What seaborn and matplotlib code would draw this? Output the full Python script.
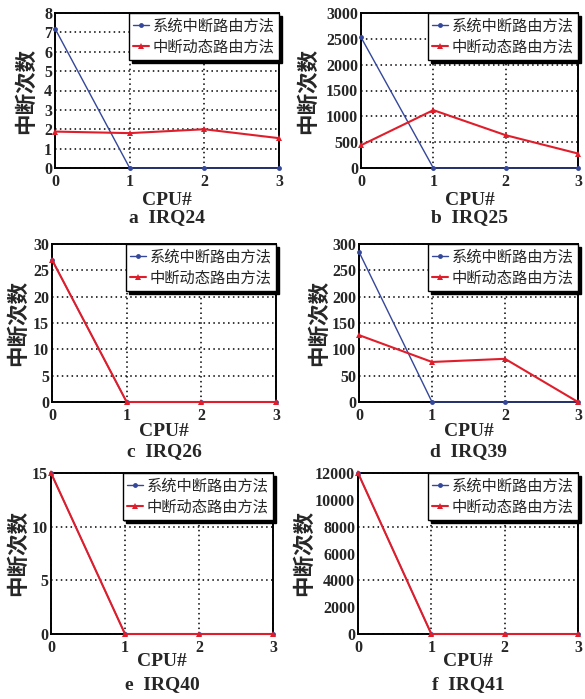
import numpy as np
import pandas as pd
import matplotlib
matplotlib.use("Agg")
import matplotlib.pyplot as plt
import matplotlib.ticker as mticker
import seaborn as sns

# CPU indices and interrupt counts per IRQ for the two routing methods
cpus = [0, 1, 2, 3]
method_sys = "系统中断路由方法"
method_dyn = "中断动态路由方法"

irq24_sys = [7.2, 0, 0, 0]
irq24_dyn = [1.88, 1.80, 2.0, 1.54]
irq25_sys = [2530, 0, 0, 0]
irq25_dyn = [440, 1120, 635, 280]
irq26_sys = [27, 0, 0, 0]
irq26_dyn = [27, 0, 0, 0]
irq39_sys = [285, 0, 0, 0]
irq39_dyn = [127, 76, 82, 0]
irq40_sys = [15, 0, 0, 0]
irq40_dyn = [15, 0, 0, 0]
irq41_sys = [12000, 0, 0, 0]
irq41_dyn = [12000, 0, 0, 0]

captions = ["a  IRQ24", "b  IRQ25", "c  IRQ26", "d  IRQ39", "e  IRQ40", "f  IRQ41"]
series = [(irq24_sys, irq24_dyn), (irq25_sys, irq25_dyn), (irq26_sys, irq26_dyn),
          (irq39_sys, irq39_dyn), (irq40_sys, irq40_dyn), (irq41_sys, irq41_dyn)]
ylims = [8, 3000, 30, 300, 15, 12000]
ysteps = [1, 500, 5, 50, 5, 2000]

sns.set_style("white")
plt.rcParams["font.family"] = ["Liberation Serif", "Noto Sans CJK SC"]
cjk = ["Noto Sans CJK SC", "DejaVu Sans"]

W, H = 585, 699
fig = plt.figure(figsize=(W / 100, H / 100), dpi=100)

# panel boxes in pixels: (left, right, top, bottom)
boxes = [(55, 279, 13, 168), (361, 578, 13, 168),
         (52, 276, 244, 402), (359, 578, 244, 402),
         (51, 273, 473, 634), (358, 578, 473, 634)]
ylabel_x = [25, 307, 17, 318, 17, 303]
cpu_y = [200, 200, 431, 431, 662, 662]
cap_y = [218, 218, 452, 452, 685, 685]

blue = "#34479a"
red = "#e01e2b"

for i, (sys_v, dyn_v) in enumerate(series):
    l, r, t, b = boxes[i]
    ax = fig.add_axes([l / W, 1 - b / H, (r - l) / W, (b - t) / H])
    df = pd.DataFrame({"cpu": cpus * 2, "count": list(sys_v) + list(dyn_v),
                       "method": [method_sys] * 4 + [method_dyn] * 4})
    sns.lineplot(data=df[df.method == method_sys], x="cpu", y="count", ax=ax,
                 color=blue, marker="o", markersize=3.5, markeredgewidth=0,
                 linewidth=1.0, label=method_sys, clip_on=False, zorder=3)
    sns.lineplot(data=df[df.method == method_dyn], x="cpu", y="count", ax=ax,
                 color=red, marker="^", markersize=5, markeredgewidth=0,
                 linewidth=1.5, label=method_dyn, clip_on=False, zorder=4)
    ax.set_xlim(0, 3)
    ax.set_ylim(0, ylims[i])
    ax.xaxis.set_major_locator(mticker.MultipleLocator(1))
    if i == 5:
        ax.yaxis.set_major_locator(mticker.MultipleLocator(4000))
        ax.yaxis.set_minor_locator(mticker.MultipleLocator(2000))
        ax.yaxis.set_minor_formatter(mticker.FormatStrFormatter("%d"))
    else:
        ax.yaxis.set_major_locator(mticker.MultipleLocator(ysteps[i]))
    ax.grid(True, which="major", color="black", linestyle=(0, (1, 2.2)), linewidth=1.1)
    for s in ax.spines.values():
        s.set_color("black")
        s.set_linewidth(1.4)
    ax.tick_params(axis="y", which="both", length=0, pad=2, labelsize=11.5)
    ax.tick_params(axis="x", which="both", length=0, pad=4, labelsize=11.5)
    for lab in ax.get_xticklabels() + ax.get_yticklabels() + ax.get_yticklabels(minor=True):
        lab.set_fontweight("bold")
    ax.set_xlabel("")
    ax.set_ylabel("")
    leg = ax.legend(loc="upper right", borderaxespad=0,
                    prop={"family": cjk, "size": 11},
                    handlelength=1.0, handletextpad=0.25, borderpad=0.3,
                    labelspacing=0.25, fancybox=False, frameon=True,
                    shadow={"color": "black", "alpha": 1.0})
    leg.get_frame().set_edgecolor("black")
    leg.get_frame().set_linewidth(1.0)
    leg.get_frame().set_alpha(1.0)

    cx = (l + r) / 2 / W
    fig.text(ylabel_x[i] / W, 1 - ((t + b) / 2) / H, "中断次数", rotation=90,
             ha="center", va="center", fontsize=15.5, family=cjk, fontweight="bold")
    fig.text(cx, 1 - cpu_y[i] / H, "CPU#", ha="center", va="center",
             fontsize=14, fontweight="bold", family="Liberation Serif")
    fig.text(cx, 1 - cap_y[i] / H, captions[i], ha="center", va="center",
             fontsize=14, fontweight="bold", family="Liberation Serif")

fig.savefig("out.png", dpi=100)
